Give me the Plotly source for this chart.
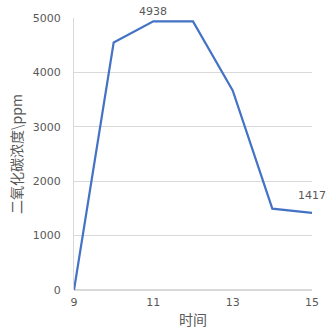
import plotly.graph_objects as go

# CO2 concentration over time
hours = [9, 10, 11, 12, 13, 14, 15]
co2_ppm = [0, 4550, 4938, 4938, 3670, 1495, 1417]
labelled_hours = [11, 15]
label_lift = [1, 9]

fig = go.Figure()
fig.add_trace(go.Scatter(
    x=hours, y=co2_ppm, mode="lines",
    line=dict(color="#4472C4", width=2.2),
    hoverinfo="skip",
))

# value labels above selected points
for h, lift in zip(labelled_hours, label_lift):
    v = co2_ppm[hours.index(h)]
    fig.add_annotation(
        x=h, y=v, text=str(v), showarrow=False,
        yanchor="bottom", yshift=lift,
        font=dict(family="DejaVu Sans", size=11, color="#595959"),
    )

fig.update_layout(
    width=326, height=329,
    margin=dict(l=74, r=14, t=18, b=39),
    paper_bgcolor="white", plot_bgcolor="white",
    showlegend=False,
    font=dict(family="Noto Sans CJK SC", color="#595959"),
)
fig.update_xaxes(
    range=[9, 15], tickvals=[9, 11, 13, 15],
    showgrid=False, showline=False, zeroline=False,
    ticks="", ticklabelstandoff=4, automargin=False,
    tickfont=dict(family="DejaVu Sans", size=11, color="#595959"),
    title=dict(text="时间", font=dict(size=14, color="#595959"), standoff=10),
)
fig.update_yaxes(
    range=[0, 5000], tickvals=[0, 1000, 2000, 3000, 4000, 5000],
    showgrid=True, gridcolor="#D9D9D9", gridwidth=1,
    showline=True, linecolor="#D9D9D9", linewidth=1,
    zeroline=True, zerolinecolor="#D9D9D9",
    ticks="", ticklabelstandoff=10, automargin=False,
    tickfont=dict(family="DejaVu Sans", size=11, color="#595959"),
    title=dict(text="二氧化碳浓度\\ppm", font=dict(size=14, color="#595959"), standoff=6),
)

fig.write_html("out.html")
